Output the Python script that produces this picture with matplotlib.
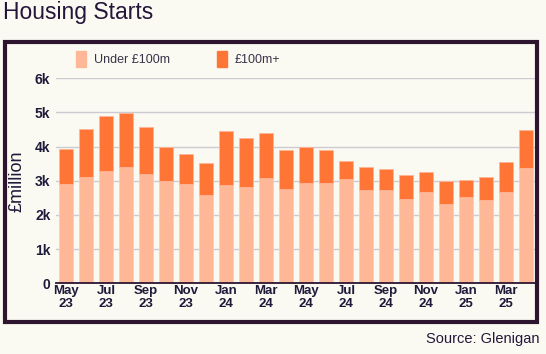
import matplotlib.pyplot as plt
from matplotlib.patches import Rectangle, Patch
import numpy as np

months = ['May\n23', '', 'Jul\n23', '', 'Sep\n23', '', 'Nov\n23', '',
          'Jan\n24', '', 'Mar\n24', '', 'May\n24', '', 'Jul\n24', '',
          'Sep\n24', '', 'Nov\n24', '', 'Jan\n25', '', 'Mar\n25', '']
under_100m = [2910, 3110, 3290, 3400, 3190, 3000, 2900, 2570, 2880, 2820, 3070, 2760,
              2940, 2940, 3040, 2740, 2740, 2470, 2660, 2320, 2540, 2440, 2660, 3370]
total = [3930, 4510, 4900, 4980, 4570, 4000, 3790, 3510, 4470, 4260, 4400, 3900,
         3980, 3900, 3570, 3410, 3350, 3160, 3260, 2990, 3030, 3100, 3540, 4490]
over_100m = [t - u for t, u in zip(total, under_100m)]

bg = '#FBFAF2'
dark = '#2D1530'
light_c = '#FFB897'
dark_c = '#FF7536'

plt.rcParams['font.family'] = ['Liberation Sans', 'DejaVu Sans']

fig = plt.figure(figsize=(5.46, 3.54), dpi=100, facecolor=bg)
ax = fig.add_axes([56 / 546, 1 - 283.3 / 354, (537 - 56) / 546, (283.3 - 78.3) / 354])
ax.set_facecolor(bg)

x = np.arange(len(months))
ax.bar(x, under_100m, width=0.67, color=light_c, edgecolor='#FFCBB3', linewidth=0.6, zorder=2)
ax.bar(x, over_100m, bottom=under_100m, width=0.67, color=dark_c, edgecolor='#FFB597',
       linewidth=0.6, zorder=2)

ax.set_xlim(-0.5, 23.55)
ax.set_ylim(0, 6000)
ax.set_yticks([0, 1000, 2000, 3000, 4000, 5000, 6000])
ax.set_yticklabels(['0', '1k', '2k', '3k', '4k', '5k', '6k'])
ax.set_xticks(x)
ax.set_xticklabels(months, linespacing=1.1)
ax.tick_params(length=0, labelsize=9.5, labelcolor='#1E1A3A')
ax.tick_params(axis='x', pad=1.5)
ax.tick_params(axis='y', pad=4, labelsize=10)
for lbl in ax.get_xticklabels() + ax.get_yticklabels():
    lbl.set_fontweight('bold')

ax.grid(axis='y', color='#CDCBD2', linewidth=1, zorder=0)
for s in ['top', 'right', 'left']:
    ax.spines[s].set_visible(False)
ax.spines['bottom'].set_color(dark)
ax.spines['bottom'].set_linewidth(1.3)
ax.spines['bottom'].set_zorder(3)

ax.set_ylabel('£million', fontsize=13, color='#1E1A3A', labelpad=7)

handles = [Patch(color=light_c, label='Under £100m'), Patch(color=dark_c, label='£100m+')]
fig.legend(handles=handles, loc='center left', bbox_to_anchor=(76 / 546, 1 - 59 / 354),
           ncol=2, frameon=False, fontsize=9, handlelength=0.8, handleheight=1.5,
           columnspacing=3.8, handletextpad=0.6, borderpad=0, borderaxespad=0,
           labelcolor='#3A3348')

fig.patches.append(Rectangle((4.5 / 546, 1 - 322 / 354), (537 - 4.5) / 546, (322 - 41.5) / 354,
                             transform=fig.transFigure, fill=False, edgecolor=dark,
                             linewidth=3, zorder=0))

fig.text(3 / 546, 1 - 12 / 354, 'Housing Starts', fontsize=16.5, color='#24163A',
         ha='left', va='center')
fig.text(540 / 546, 1 - 339 / 354, 'Source: Glenigan', fontsize=10.5, color='#24163A',
         ha='right', va='center')

fig.savefig('out.png', dpi=100, facecolor=bg)
